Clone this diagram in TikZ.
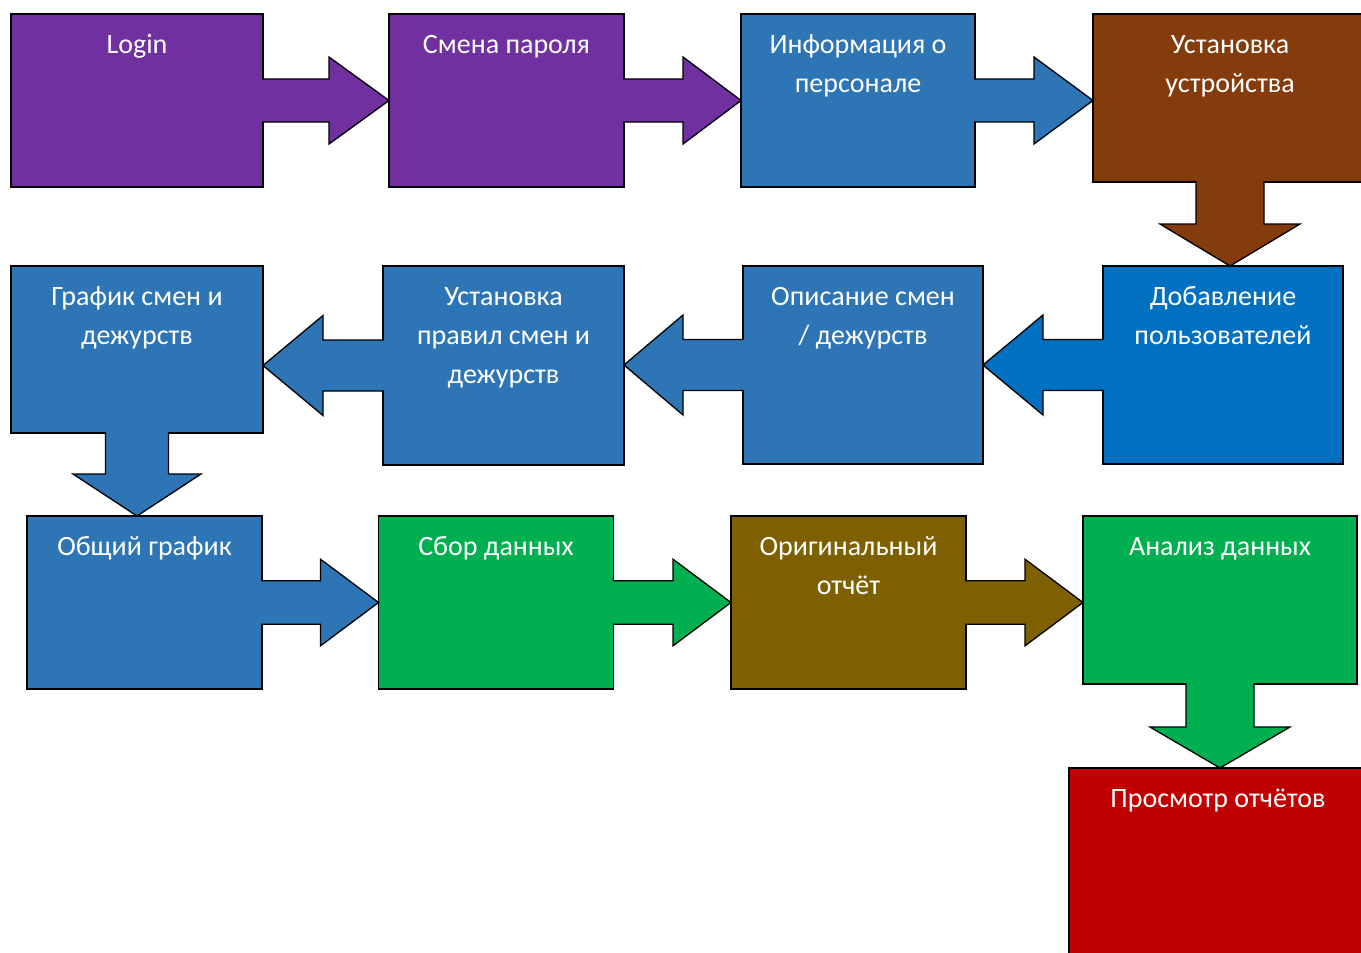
\documentclass[tikz,border=0pt]{standalone}
\usepackage{fontspec}
\setmainfont{Carlito}
\usetikzlibrary{positioning}

\definecolor{purpleA}{HTML}{7030A0}
\definecolor{blueA}{HTML}{2E75B6}
\definecolor{blueB}{HTML}{0070C0}
\definecolor{brownA}{HTML}{843C0C}
\definecolor{greenA}{HTML}{00B050}
\definecolor{oliveA}{HTML}{7F6000}
\definecolor{redA}{HTML}{C00000}

\begin{document}
\begin{tikzpicture}[x=1pt, y=-1pt,
    block/.style={draw, line width=1.3pt, outer sep=0pt, inner sep=0pt},
    blocktext/.style={text=white, inner sep=0pt, align=center, font=\fontsize{28}{39}\selectfont},
    flow/.style={line width=1.3pt, line join=miter}]
    \clip (0,0) rectangle (1361,953);
    \useasboundingbox (0,0) rectangle (1361,953);

    % Row 1
    \node[block, fill=purpleA, minimum width=252pt, minimum height=173pt] (login) at (137,100.5) {};
    \node[block, fill=purpleA, minimum width=235pt, minimum height=173pt] (pwd) at (506.5,100.5) {};
    \node[block, fill=blueA, minimum width=234pt, minimum height=173pt] (staff) at (858,100.5) {};
    \node[block, fill=brownA, minimum width=274pt, minimum height=168pt] (device) at (1230,98) {};

    % Row 2
    \node[block, fill=blueB, minimum width=240pt, minimum height=198pt] (users) at (1223,365) {};
    \node[block, fill=blueA, minimum width=240pt, minimum height=198pt] (shifts) at (863,365) {};
    \node[block, fill=blueA, minimum width=241pt, minimum height=199pt] (rules) at (503.5,365.5) {};
    \node[block, fill=blueA, minimum width=252pt, minimum height=167pt] (sched) at (137,349.5) {};

    % Row 3
    \node[block, fill=blueA, minimum width=235pt, minimum height=173pt] (common) at (144.5,602.5) {};
    \node[block, fill=greenA, minimum width=235pt, minimum height=173pt] (collect) at (496,602.5) {};
    \node[block, fill=oliveA, minimum width=235pt, minimum height=173pt] (orig) at (848.5,602.5) {};
    \node[block, fill=greenA, minimum width=274pt, minimum height=168pt] (analysis) at (1220,600) {};
    \node[block, fill=redA, minimum width=298pt, minimum height=232pt] (view) at (1218,884) {};

    % Texts
    \foreach \id/\txt in {login/Login, pwd/Смена пароля, staff/{Информация о\\персонале},
        device/{Установка\\устройства}, users/{Добавление\\пользователей},
        shifts/{Описание смен\\/ дежурств}, rules/{Установка\\правил смен и\\дежурств},
        sched/{График смен и\\дежурств}, common/Общий график, collect/Сбор данных,
        orig/{Оригинальный\\отчёт}, analysis/Анализ данных, view/Просмотр отчётов} {
        \node[blocktext, below=11.7pt of \id.north] (\id-text) {\strut\txt};
    }

    % Arrows to the right
    \foreach \src/\dst/\col/\sh/\hh/\len in {login/pwd/purpleA/21.5/43.5/60,
        pwd/staff/purpleA/21.5/43.5/58, staff/device/blueA/21.5/43.5/59,
        common/collect/blueA/21.7/43.3/58, collect/orig/greenA/21.7/43.3/58,
        orig/analysis/oliveA/21.7/43.3/58} {
        \coordinate (tip-\src) at (\dst.west |- \src.east);
        \filldraw[flow, fill=\col] ([xshift=-0.8, yshift=\sh]\src.east)
            -- ([xshift=-\len, yshift=\sh]tip-\src) -- ([xshift=-\len, yshift=\hh]tip-\src)
            -- (tip-\src)
            -- ([xshift=-\len, yshift=-\hh]tip-\src) -- ([xshift=-\len, yshift=-\sh]tip-\src)
            -- ([xshift=-0.8, yshift=-\sh]\src.east);
    }

    % Arrows to the left
    \foreach \src/\dst/\col/\sh/\hh/\len in {users/shifts/blueB/25.5/50/60,
        shifts/rules/blueA/25.5/50/59, rules/sched/blueA/25.5/50/60} {
        \coordinate (tip-\src) at (\dst.east |- \src.west);
        \filldraw[flow, fill=\col] ([xshift=0.8, yshift=\sh]\src.west)
            -- ([xshift=\len, yshift=\sh]tip-\src) -- ([xshift=\len, yshift=\hh]tip-\src)
            -- (tip-\src)
            -- ([xshift=\len, yshift=-\hh]tip-\src) -- ([xshift=\len, yshift=-\sh]tip-\src)
            -- ([xshift=0.8, yshift=-\sh]\src.west);
    }

    % Arrows down
    \foreach \src/\dst/\col/\sh/\hh/\len in {device/users/brownA/34/70/42,
        sched/common/blueA/31.5/64/42, analysis/view/greenA/34/70/41} {
        \coordinate (tip-\src) at (\src.south |- \dst.north);
        \filldraw[flow, fill=\col] ([xshift=-\sh, yshift=0.8]\src.south)
            -- ([xshift=-\sh, yshift=\len]tip-\src) -- ([xshift=-\hh, yshift=\len]tip-\src)
            -- (tip-\src)
            -- ([xshift=\hh, yshift=\len]tip-\src) -- ([xshift=\sh, yshift=\len]tip-\src)
            -- ([xshift=\sh, yshift=0.8]\src.south);
    }
\end{tikzpicture}
\end{document}
